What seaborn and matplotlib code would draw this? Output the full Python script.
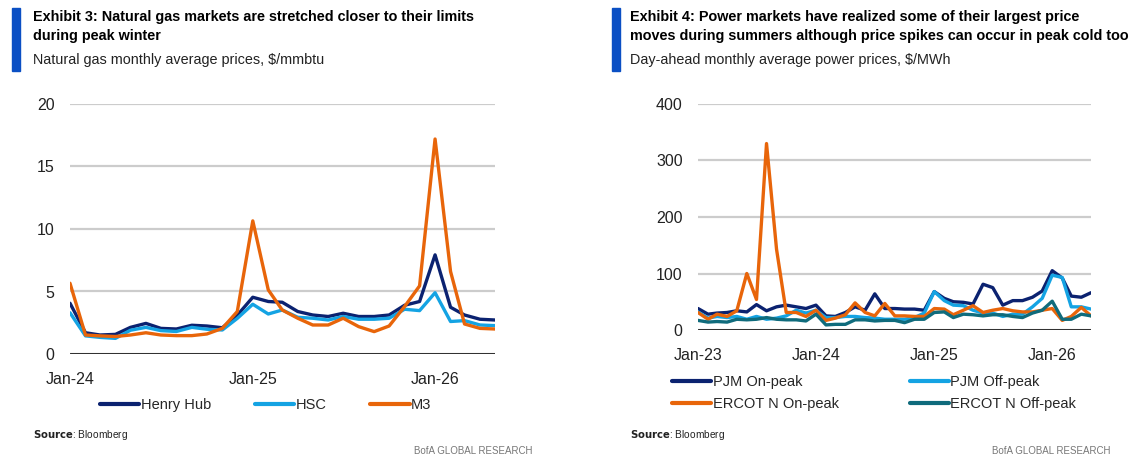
import seaborn as sns
import matplotlib.pyplot as plt
import matplotlib.dates as mdates
import pandas as pd
import numpy as np
from matplotlib.lines import Line2D

# ---------------- data ----------------
# Exhibit 3: natural gas, monthly Jan-24 .. May-26
henry_hub = [4.06, 1.70, 1.52, 1.57, 2.13, 2.45, 2.05, 2.00, 2.30, 2.24, 2.10, 3.10,
             4.54, 4.20, 4.14, 3.40, 3.12, 3.00, 3.26, 3.00, 3.00, 3.12, 3.90, 4.20,
             7.93, 3.74, 3.12, 2.78, 2.72]
hsc = [3.30, 1.45, 1.33, 1.25, 1.90, 2.13, 1.87, 1.80, 2.13, 1.98, 1.92, 2.85,
       3.98, 3.20, 3.52, 2.94, 2.86, 2.72, 3.00, 2.78, 2.78, 2.86, 3.58, 3.47,
       4.90, 2.60, 2.67, 2.32, 2.27]
m3 = [5.66, 1.52, 1.45, 1.40, 1.52, 1.70, 1.52, 1.47, 1.47, 1.60, 2.05, 3.40,
      10.65, 5.13, 3.52, 2.86, 2.32, 2.32, 2.86, 2.19, 1.79, 2.24, 3.80, 5.45,
      17.20, 6.60, 2.40, 2.05, 2.00]

# Exhibit 4: power, monthly Jan-23 .. May-26
pjm_on = [38, 28, 30, 31, 34, 32, 45, 34, 41, 44, 41, 38,
          44, 25, 24, 31, 41, 35, 64, 38, 38, 37, 37, 35,
          68, 56, 50, 49, 46, 81, 75, 44, 52, 52, 58, 69,
          105, 92, 60, 58, 66]
pjm_off = [32, 21, 24, 22, 24, 19, 24, 19, 21, 25, 35, 30,
           35, 22, 22, 24, 24, 22, 21, 19, 19, 19, 22, 30,
           68, 52, 44, 43, 35, 30, 30, 24, 28, 28, 41, 56,
           97, 93, 41, 41, 37]
ercot_on = [31, 19, 28, 24, 34, 100, 54, 330, 143, 31, 31, 24,
            35, 17, 21, 27, 48, 31, 25, 47, 25, 25, 24, 24,
            38, 37, 27, 35, 43, 31, 35, 38, 34, 32, 32, 35,
            38, 17, 24, 40, 25]
ercot_off = [17, 14, 15, 14, 19, 18, 19, 22, 19, 18, 18, 16,
             28, 9, 10, 10, 18, 18, 16, 17, 17, 13, 19, 19,
             31, 32, 22, 28, 27, 25, 27, 27, 24, 22, 30, 35,
             51, 19, 19, 28, 25]

gas_names = ["Henry Hub", "HSC", "M3"]
power_names = ["PJM On-peak", "PJM Off-peak", "ERCOT N On-peak", "ERCOT N Off-peak"]

NAVY = "#0b2270"
LBLUE = "#14a3e3"
ORANGE = "#e8650a"
TEAL = "#0f6b7c"
GRID = "#cccccc"
TXT = "#222222"

sns.set_style("white")
plt.rcParams['font.family'] = ['Liberation Sans Narrow', 'Liberation Sans', 'DejaVu Sans']

gas = pd.DataFrame({"date": pd.date_range("2024-01-01", periods=len(henry_hub), freq="MS"),
                    "Henry Hub": henry_hub, "HSC": hsc, "M3": m3})
gas = gas.melt(id_vars="date", var_name="series", value_name="price")

power = pd.DataFrame({"date": pd.date_range("2023-01-01", periods=len(pjm_on), freq="MS"),
                      "PJM On-peak": pjm_on, "PJM Off-peak": pjm_off,
                      "ERCOT N On-peak": ercot_on, "ERCOT N Off-peak": ercot_off})
power = power.melt(id_vars="date", var_name="series", value_name="price")

W, H = 1141, 465
fig = plt.figure(figsize=(W / 100, H / 100), dpi=100)


def px_axes(x0, y0, x1, y1):
    return fig.add_axes([x0 / W, 1 - y1 / H, (x1 - x0) / W, (y1 - y0) / H])


def style_ax(ax, ymax, step):
    ax.set_ylim(0, ymax)
    ax.set_yticks(np.arange(0, ymax + 1, step))
    ax.grid(axis="y", color=GRID, lw=1.6)
    ax.set_axisbelow(True)
    for s in ax.spines.values():
        s.set_visible(False)
    ax.axhline(0, color="black", lw=1.8, zorder=5)
    ax.tick_params(axis="both", length=0, labelsize=11.5, labelcolor=TXT)
    ax.tick_params(axis="x", pad=13)
    ax.tick_params(axis="y", pad=11)
    ax.xaxis.set_major_locator(mdates.MonthLocator(bymonth=1))
    ax.xaxis.set_major_formatter(mdates.DateFormatter("%b-%y"))
    ax.set_xlabel("")
    ax.set_ylabel("")


def header(x, bar_x, title, subtitle):
    fig.patches.append(plt.Rectangle((bar_x / W, 1 - 71 / H), 8 / W, 63 / H,
                                     transform=fig.transFigure, color="#0a4fc4"))
    fig.text(x / W, 1 - 10 / H, title, fontsize=10.4, fontweight="bold", va="top",
             linespacing=1.45, color="black")
    fig.text(x / W, 1 - 53 / H, subtitle, fontsize=10.4, va="top", color=TXT)


def footer(x, right):
    fig.text(x / W, 1 - 435 / H, r"$\bf{Source}$: Bloomberg", fontsize=7.3, va="center", color=TXT)
    fig.text(right / W, 1 - 451 / H, "BofA GLOBAL RESEARCH", fontsize=7, ha="right",
             va="center", color="#777777")


# ---------------- left: natural gas ----------------
ax1 = px_axes(70, 104, 495, 354)
sns.lineplot(data=gas, x="date", y="price", hue="series", hue_order=gas_names,
             palette=[NAVY, LBLUE, ORANGE], lw=2.4, ax=ax1, legend=False)
ax1.set_xlim(pd.Timestamp("2024-01-01"), pd.Timestamp("2026-05-01"))
style_ax(ax1, 20, 5)

h1 = [Line2D([], [], color=c, lw=3) for c in [NAVY, LBLUE, ORANGE]]
fig.legend(h1, gas_names, loc="center left", bbox_to_anchor=(100 / W, 1 - 405 / H), ncol=3,
           frameon=False, fontsize=10.5, handlelength=2.7, handletextpad=0.1,
           columnspacing=3.0, borderpad=0, borderaxespad=0)

header(33, 12, "Exhibit 3: Natural gas markets are stretched closer to their limits\nduring peak winter",
       "Natural gas monthly average prices, $/mmbtu")
footer(33, 533)

# ---------------- right: power ----------------
ax2 = px_axes(698, 104, 1091, 330)
sns.lineplot(data=power, x="date", y="price", hue="series", hue_order=power_names,
             palette=[NAVY, LBLUE, ORANGE, TEAL], lw=2.4, ax=ax2, legend=False)
ax2.set_xlim(pd.Timestamp("2023-01-01"), pd.Timestamp("2026-05-01"))
style_ax(ax2, 400, 100)

# legend is filled column by column: keep PJM on the first row, ERCOT on the second
leg_order = [0, 2, 1, 3]
h2 = [Line2D([], [], color=[NAVY, LBLUE, ORANGE, TEAL][i], lw=3) for i in leg_order]
fig.legend(h2, [power_names[i] for i in leg_order], loc="center left",
           bbox_to_anchor=(672 / W, 1 - 393 / H), ncol=2, frameon=False, fontsize=10.5,
           handlelength=2.7, handletextpad=0.1, columnspacing=4.85, labelspacing=0.6,
           borderpad=0, borderaxespad=0)

header(630, 612, "Exhibit 4: Power markets have realized some of their largest price\nmoves during summers although price spikes can occur in peak cold too",
       "Day-ahead monthly average power prices, $/MWh")
footer(630, 1110)

fig.savefig("out.png", dpi=100)
